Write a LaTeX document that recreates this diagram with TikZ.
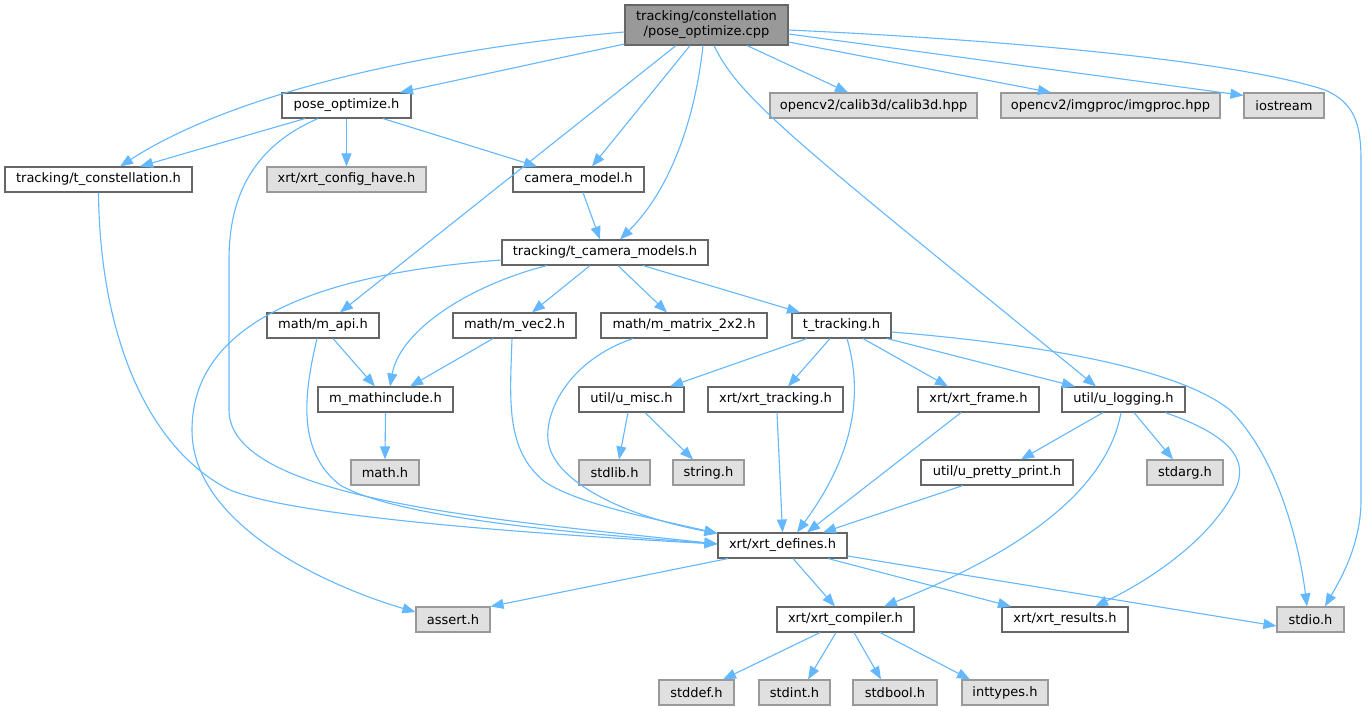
\documentclass[tikz,border=0pt]{standalone}
\usepackage{fontspec}
\setmainfont{DejaVu Sans}
\usetikzlibrary{arrows.meta}
\definecolor{cborder}{HTML}{666666}
\definecolor{cextb}{HTML}{999999}
\definecolor{cextf}{HTML}{E0E0E0}
\definecolor{croot}{HTML}{999999}
\definecolor{cedge}{HTML}{63B8FF}
\tikzset{
  nd/.style={draw=cborder, fill=white, line width=1.1pt, minimum height=25pt, inner sep=0pt, text=black, font=\fontsize{13}{15}\selectfont},
  ext/.style={nd, draw=cextb, fill=cextf},
  rootnd/.style={nd, fill=croot, minimum height=40pt, align=center},
  edge/.style={draw=cedge, line width=1.1pt, -{Triangle[length=13pt,width=10pt,fill=cedge]}},
}
\begin{document}
\begin{tikzpicture}[x=1pt,y=-1pt]
\useasboundingbox[fill=white] (0,0) rectangle (1368,711);
% nodes
\node[rootnd, minimum width=163pt] (top) at (706.5,25) {tracking/constellation\\/pose\_optimize.cpp};
\node[nd, minimum width=129pt] (po) at (346.5,105.5) {pose\_optimize.h};
\node[ext, minimum width=207pt] (calib) at (873.5,105.5) {opencv2/calib3d/calib3d.hpp};
\node[ext, minimum width=219pt] (imgproc) at (1110.5,105.5) {opencv2/imgproc/imgproc.hpp};
\node[ext, minimum width=80pt] (iostream) at (1284,105.5) {iostream};
\node[nd, minimum width=187pt] (tc) at (98.5,179.5) {tracking/t\_constellation.h};
\node[ext, minimum width=159pt] (cfg) at (346.5,179.5) {xrt/xrt\_config\_have.h};
\node[nd, minimum width=131pt] (cam) at (578.5,179.5) {camera\_model.h};
\node[nd, minimum width=206pt] (tcm) at (605,252.5) {tracking/t\_camera\_models.h};
\node[nd, minimum width=112pt] (mapi) at (323,325.5) {math/m\_api.h};
\node[nd, minimum width=123pt] (vec2) at (514.5,325.5) {math/m\_vec2.h};
\node[nd, minimum width=166pt] (mat) at (684,325.5) {math/m\_matrix\_2x2.h};
\node[nd, minimum width=99pt] (ttr) at (841.5,325.5) {t\_tracking.h};
\node[nd, minimum width=135pt] (mmi) at (385.5,399.5) {m\_mathinclude.h};
\node[nd, minimum width=105pt] (umisc) at (631.5,399.5) {util/u\_misc.h};
\node[nd, minimum width=135pt] (xtrk) at (775.5,399.5) {xrt/xrt\_tracking.h};
\node[nd, minimum width=121pt] (xfr) at (978.5,399.5) {xrt/xrt\_frame.h};
\node[nd, minimum width=123pt] (ulog) at (1123.5,399.5) {util/u\_logging.h};
\node[ext, minimum width=68pt] (mathh) at (385,472.5) {math.h};
\node[ext, minimum width=71pt] (stdlib) at (614.5,472.5) {stdlib.h};
\node[ext, minimum width=71pt] (string) at (708.5,472.5) {string.h};
\node[nd, minimum width=152pt] (upp) at (997,472.5) {util/u\_pretty\_print.h};
\node[ext, minimum width=76pt] (stdarg) at (1185,472.5) {stdarg.h};
\node[nd, minimum width=129pt] (xdef) at (782.5,545.5) {xrt/xrt\_defines.h};
\node[ext, minimum width=74pt] (assert) at (453,619.5) {assert.h};
\node[nd, minimum width=137pt] (xcomp) at (845.5,619.5) {xrt/xrt\_compiler.h};
\node[nd, minimum width=126pt] (xres) at (1065,619.5) {xrt/xrt\_results.h};
\node[ext, minimum width=67pt] (stdio) at (1310.5,619.5) {stdio.h};
\node[ext, minimum width=75pt] (stddef) at (696.5,692.5) {stddef.h};
\node[ext, minimum width=71pt] (stdint) at (794.5,692.5) {stdint.h};
\node[ext, minimum width=84pt] (stdbool) at (895,692.5) {stdbool.h};
\node[ext, minimum width=86pt] (inttypes) at (1005,692.5) {inttypes.h};
% edges from root
\draw[edge] ([yshift=-19pt]top.west) -- ([xshift=53.5pt]po.north);
\draw[edge] ([yshift=-7pt]top.west) .. controls (420,50) and (230,95) .. ([xshift=21.5pt]tc.north);
\draw[edge] ([xshift=-30.5pt]top.south) -- ([xshift=17pt]mapi.north);
\draw[edge] ([xshift=-16.5pt]top.south) -- ([xshift=13.5pt]cam.north);
\draw[edge] ([xshift=-3.5pt]top.south) .. controls (695,120) and (670,190) .. ([xshift=15pt]tcm.north);
\draw[edge] ([xshift=7.5pt]top.south) .. controls (740,100) and (800,145) .. ([xshift=-27.5pt]ulog.north);
\draw[edge] ([xshift=40.5pt]top.south) -- ([xshift=-25.5pt]calib.north);
\draw[edge] ([yshift=-17pt]top.east) -- ([xshift=-59.5pt]imgproc.north);
\draw[edge] ([yshift=-9pt]top.east) -- ([yshift=-3pt]iostream.north west);
\draw[edge] ([yshift=-5pt]top.east) .. controls (1050,42) and (1250,65) .. (1325,90) .. controls (1355,103) and (1361,125) .. (1361,160) -- (1361,500) .. controls (1361,545) and (1340,580) .. ([xshift=14.5pt]stdio.north);
% pose_optimize.h
\draw[edge] ([xshift=-41.5pt]po.south) -- ([xshift=41.5pt]tc.north);
\draw[edge] (po.south) -- (cfg.north);
\draw[edge] ([xshift=36.5pt]po.south) -- ([xshift=-41.5pt]cam.north);
\draw[edge] ([xshift=-28.5pt]po.south) .. controls (250,148) and (229,200) .. (229,260) -- (229,410) .. controls (229,500) and (500,520) .. ([yshift=1.5pt]xdef.west);
% t_constellation
\draw[edge] (tc.south) .. controls (100,340) and (150,450) .. (230,490) .. controls (300,518) and (550,535) .. ([yshift=1.5pt]xdef.west);
% camera_model
\draw[edge] ([xshift=4.5pt]cam.south) -- ([xshift=-5pt]tcm.north);
% t_camera_models
\draw[edge] ([yshift=-7.5pt]tcm.west) .. controls (300,275) and (192,330) .. (192,430) .. controls (192,530) and (340,590) .. ([yshift=7.5pt]assert.west);
\draw[edge] ([xshift=-58pt]tcm.south) .. controls (470,285) and (400,330) .. ([xshift=4.5pt]mmi.north);
\draw[edge] ([xshift=-15pt]tcm.south) -- ([xshift=17.5pt]vec2.north);
\draw[edge] ([xshift=13pt]tcm.south) -- ([xshift=-17pt]mat.north);
\draw[edge] ([xshift=38pt]tcm.south) -- ([xshift=-41.5pt]ttr.north);
% math
\draw[edge] ([xshift=10pt]mapi.south) -- ([xshift=-10.5pt]mmi.north);
\draw[edge] ([xshift=-6pt]mapi.south) .. controls (305,390) and (295,450) .. (340,485) .. controls (400,520) and (600,535) .. ([yshift=1.5pt]xdef.west);
\draw[edge] ([xshift=-21.5pt]vec2.south) -- ([xshift=24.5pt]mmi.north);
\draw[edge] ([xshift=-2.5pt]vec2.south) .. controls (510,400) and (505,450) .. (545,482) .. controls (580,505) and (660,520) .. ([yshift=-1pt]xdef.north west);
\draw[edge] ([xshift=-51pt]mat.south) .. controls (570,360) and (545,410) .. (548,440) .. controls (552,480) and (620,515) .. ([yshift=-1pt]xdef.north west);
\draw[edge] (mmi.south) -- (mathh.north);
% t_tracking
\draw[edge] ([xshift=-34.5pt]ttr.south) -- ([xshift=38.5pt]umisc.north);
\draw[edge] ([xshift=-11.5pt]ttr.south) -- ([xshift=12.5pt]xtrk.north);
\draw[edge] ([xshift=5.5pt]ttr.south) .. controls (865,400) and (850,460) .. ([xshift=14.5pt]xdef.north);
\draw[edge] ([xshift=21.5pt]ttr.south) -- ([xshift=-30.5pt]xfr.north);
\draw[edge] ([xshift=45.5pt]ttr.south) -- ([xshift=-48.5pt]ulog.north);
\draw[edge] ([yshift=-6.5pt]ttr.east) .. controls (1050,345) and (1180,370) .. (1230,410) .. controls (1280,460) and (1300,550) .. ([xshift=-3.5pt]stdio.north);
% u_misc
\draw[edge] ([xshift=-3.5pt]umisc.south) -- ([xshift=4.5pt]stdlib.north);
\draw[edge] ([xshift=13.5pt]umisc.south) -- ([xshift=-15.5pt]string.north);
% xrt_tracking, xrt_frame
\draw[edge] ([xshift=1.5pt]xtrk.south) -- (xdef.north);
\draw[edge] ([xshift=-17.5pt]xfr.south) -- ([xshift=24.5pt]xdef.north);
% u_logging
\draw[edge] ([xshift=-20.5pt]ulog.south) -- ([xshift=24pt]upp.north);
\draw[edge] ([xshift=10.5pt]ulog.south) -- ([xshift=-12pt]stdarg.north);
\draw[edge] ([xshift=-2.5pt]ulog.south) .. controls (1105,500) and (1000,560) .. ([xshift=38.5pt]xcomp.north);
\draw[edge] ([xshift=41.5pt]ulog.south) .. controls (1230,435) and (1250,460) .. (1235,490) .. controls (1210,540) and (1150,580) .. ([xshift=30pt]xres.north);
% u_pretty_print
\draw[edge] ([xshift=-34pt]upp.south) -- ([xshift=40.5pt]xdef.north);
% xrt_defines
\draw[edge] ([xshift=-54.5pt]xdef.south) -- (assert.north east);
\draw[edge] ([xshift=10.5pt]xdef.south) -- ([xshift=-10.5pt]xcomp.north);
\draw[edge] ([xshift=45.5pt]xdef.south) -- ([xshift=-54pt]xres.north);
\draw[edge] ([yshift=-10.5pt]xdef.east) -- ([yshift=-6.5pt]stdio.west);
% xrt_compiler
\draw[edge] ([xshift=-25.5pt]xcomp.south) -- ([xshift=26.5pt]stddef.north);
\draw[edge] ([xshift=-9.5pt]xcomp.south) -- ([xshift=13.5pt]stdint.north);
\draw[edge] ([xshift=8.5pt]xcomp.south) -- ([xshift=-14pt]stdbool.north);
\draw[edge] ([xshift=34.5pt]xcomp.south) -- ([xshift=-35pt]inttypes.north);
\end{tikzpicture}
\end{document}
